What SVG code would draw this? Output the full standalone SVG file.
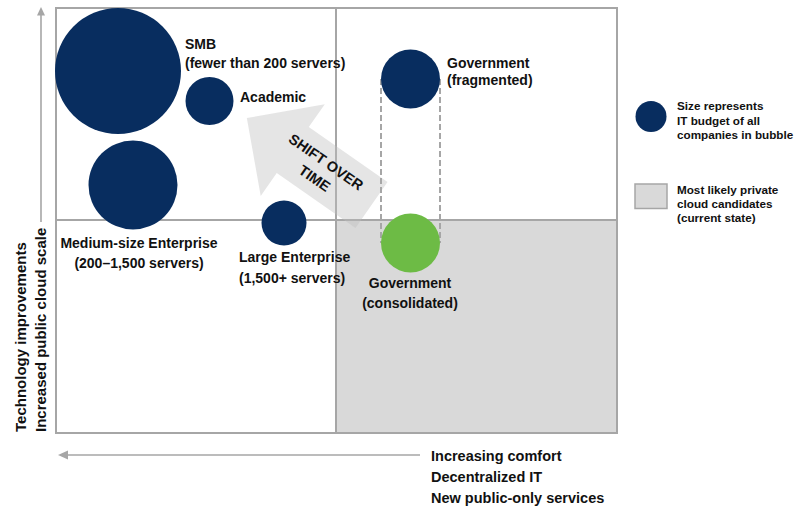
<svg xmlns="http://www.w3.org/2000/svg" width="801" height="506" viewBox="0 0 801 506">
<defs>
<style>
.lbl{font-family:"Liberation Sans",Arial,sans-serif;font-weight:bold;font-size:14px;fill:#111111}
.ax{font-family:"Liberation Sans",Arial,sans-serif;font-weight:bold;font-size:14.5px;fill:#111111}
.lg{font-family:"Liberation Sans",Arial,sans-serif;font-weight:bold;font-size:11.7px;fill:#111111}
.navy{fill:#082d5f}
.grid{stroke:#a6a6a6;stroke-width:2;fill:none}
.dash{stroke:#a6a6a6;stroke-width:2;stroke-dasharray:6 3;fill:none}
.axis{stroke:#a6a6a6;stroke-width:1.6;fill:none}
</style>
</defs>
<rect width="801" height="506" fill="#ffffff"/>
<g id="chart">
<rect x="336" y="220" width="281" height="213" fill="#d9d9d9"/>
<rect class="grid" x="56" y="8" width="561" height="425"/>
<line class="grid" x1="336" y1="8" x2="336" y2="433"/>
<line class="grid" x1="56" y1="220" x2="617" y2="220"/>
</g>
<g id="shift-arrow">
<path transform="translate(371.5,205) rotate(214.9)" d="M0,-28 L96,-28 L96,-56 L152,0 L96,56 L96,28 L0,28 Z" fill="#bfbfbf" fill-opacity="0.4"/>
<g transform="translate(326,162) rotate(35)">
<text class="ax" x="0" y="5" text-anchor="middle">SHIFT OVER</text>
<text class="ax" x="0" y="25" text-anchor="middle">TIME</text>
</g>
</g>
<g id="connectors">
<line class="dash" x1="381" y1="79" x2="381" y2="243"/>
<line class="dash" x1="440" y1="79" x2="440" y2="243"/>
<line class="axis" x1="41" y1="222" x2="41" y2="14"/>
<path d="M41,7 L45,15.5 L37,15.5 Z" fill="#a6a6a6"/>
<line class="axis" x1="420" y1="455" x2="66" y2="455"/>
<path d="M58,455 L68,450.5 L68,459.5 Z" fill="#a6a6a6"/>
</g>
<g id="smb">
<circle class="navy" cx="118" cy="71" r="63"/>
<text class="lbl" x="185" y="49">SMB</text>
<text class="lbl" x="185" y="68">(fewer than 200 servers)</text>
</g>
<g id="academic">
<circle class="navy" cx="209.5" cy="101" r="24"/>
<text class="lbl" x="240" y="102">Academic</text>
</g>
<g id="medium">
<circle class="navy" cx="133" cy="185" r="44.5"/>
<text class="lbl" x="139" y="248" text-anchor="middle">Medium-size Enterprise</text>
<text class="lbl" x="139" y="268" text-anchor="middle">(200–1,500 servers)</text>
</g>
<g id="large">
<circle class="navy" cx="284" cy="223" r="22.5"/>
<text class="lbl" x="239" y="262">Large Enterprise</text>
<text class="lbl" x="239" y="283">(1,500+ servers)</text>
</g>
<g id="gov-fragmented">
<circle class="navy" cx="410.5" cy="79" r="29.5"/>
<text class="lbl" x="447" y="68">Government</text>
<text class="lbl" x="447" y="85">(fragmented)</text>
</g>
<g id="gov-consolidated">
<circle cx="410.5" cy="243" r="29.5" fill="#6dbb45"/>
<text class="lbl" x="410" y="288" text-anchor="middle">Government</text>
<text class="lbl" x="410" y="308" text-anchor="middle">(consolidated)</text>
</g>
<g id="y-axis-label">
<text class="ax" transform="translate(26,432) rotate(-90)" style="font-size:15px">Technology improvements</text>
<text class="ax" transform="translate(46,432) rotate(-90)" style="font-size:15px">Increased public cloud scale</text>
</g>
<g id="x-axis-label">
<text class="ax" x="431" y="461">Increasing comfort</text>
<text class="ax" x="431" y="482">Decentralized IT</text>
<text class="ax" x="431" y="503">New public-only services</text>
</g>
<g id="legend-size">
<circle class="navy" cx="651" cy="116.5" r="15.5"/>
<text class="lg" x="677" y="110">Size represents</text>
<text class="lg" x="677" y="125">IT budget of all</text>
<text class="lg" x="677" y="139">companies in bubble</text>
</g>
<g id="legend-private">
<rect x="635" y="184" width="32" height="24.5" fill="#d9d9d9" stroke="#a6a6a6" stroke-width="1.5"/>
<text class="lg" x="677" y="194">Most likely private</text>
<text class="lg" x="677" y="208">cloud candidates</text>
<text class="lg" x="677" y="222">(current state)</text>
</g>
</svg>
